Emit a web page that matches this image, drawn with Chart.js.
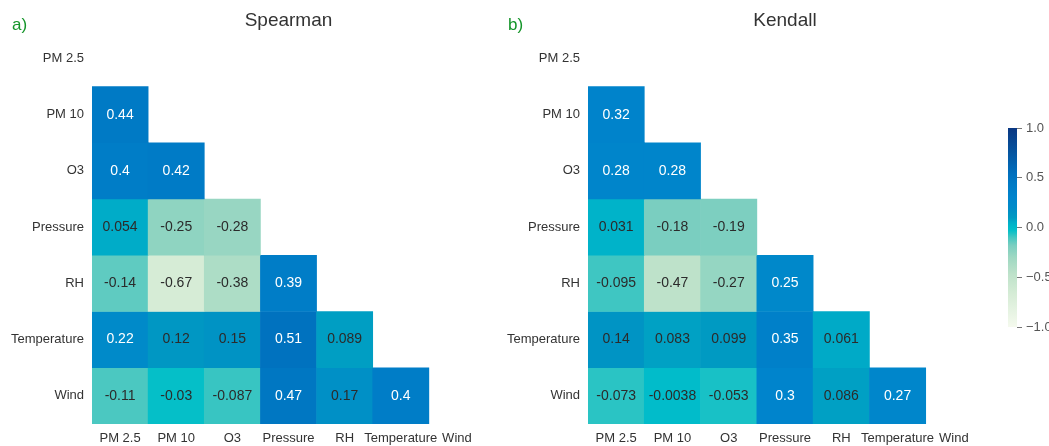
<!DOCTYPE html>
<html><head><meta charset="utf-8">
<script src="https://cdn.jsdelivr.net/npm/chart.js@4/dist/chart.umd.min.js"></script>
<style>
html,body{margin:0;padding:0;background:#fff;}
#wrap{position:relative;width:1049px;height:446px;overflow:hidden;}
.c{position:absolute;top:0;}
</style></head>
<body><div id="wrap">
<div class="c" style="left:0;width:485px;height:446px"><canvas id="left"></canvas></div>
<div class="c" style="left:490px;width:492px;height:446px"><canvas id="right"></canvas></div>
<div class="c" style="left:980px;width:69px;height:446px"><canvas id="cbar"></canvas></div>
</div>
<script>
const variables = ['PM 2.5','PM 10','O3','Pressure','RH','Temperature','Wind'];
// lower-triangle rows (row i has i values, for columns 0..i-1)
const spearmanPM10 = [0.44];
const spearmanO3 = [0.4, 0.42];
const spearmanPressure = [0.054, -0.25, -0.28];
const spearmanRH = [-0.14, -0.67, -0.38, 0.39];
const spearmanTemperature = [0.22, 0.12, 0.15, 0.51, 0.089];
const spearmanWind = [-0.11, -0.03, -0.087, 0.47, 0.17, 0.4];
const kendallPM10 = [0.32];
const kendallO3 = [0.28, 0.28];
const kendallPressure = [0.031, -0.18, -0.19];
const kendallRH = [-0.095, -0.47, -0.27, 0.25];
const kendallTemperature = [0.14, 0.083, 0.099, 0.35, 0.061];
const kendallWind = [-0.073, -0.0038, -0.053, 0.3, 0.086, 0.27];
const colorbarTicks = [-1, -0.5, 0, 0.5, 1];

const spearmanRows = [[], spearmanPM10, spearmanO3, spearmanPressure, spearmanRH, spearmanTemperature, spearmanWind];
const kendallRows = [[], kendallPM10, kendallO3, kendallPressure, kendallRH, kendallTemperature, kendallWind];

const cmap = [
  [-1, [245,250,238]], [-0.67, [214,236,214]], [-0.47, [190,226,202]], [-0.3, [158,216,194]],
  [-0.18, [122,206,192]], [-0.1, [68,199,193]], [-0.06, [30,194,197]], [-0.03, [5,191,200]], [0, [0,187,202]],
  [0.05, [0,174,200]], [0.1, [0,154,194]], [0.15, [0,147,196]], [0.2, [0,139,200]], [0.3, [0,132,204]],
  [0.45, [0,121,196]], [0.55, [0,110,188]], [0.75, [5,85,160]], [1, [10,55,130]]
];
function colorFor(v){
  for (let i=0;i<cmap.length-1;i++){
    const [a,ca]=cmap[i],[b,cb]=cmap[i+1];
    if (v>=a && v<=b){
      const t=(v-a)/(b-a);
      const c=ca.map((x,k)=>Math.round(x+(cb[k]-x)*t));
      return `rgb(${c[0]},${c[1]},${c[2]})`;
    }
  }
  return v<0?'rgb(245,250,238)':'rgb(10,55,130)';
}

const FONT = '"Liberation Sans", Arial, sans-serif';

const cellText = {
  id:'cellText',
  afterDatasetsDraw(chart){
    const ctx=chart.ctx;
    ctx.save();
    ctx.font = '14px '+FONT;
    ctx.textAlign='center'; ctx.textBaseline='middle';
    chart.data.datasets.forEach((ds,di)=>{
      const meta=chart.getDatasetMeta(di);
      meta.data.forEach((el,j)=>{
        const v=ds.values[j];
        if (v===undefined || v===null) return;
        ctx.fillStyle = v>=0.2 ? '#ffffff' : '#2b2b2b';
        ctx.fillText(String(v), el.x, (el.y+el.base)/2);
      });
    });
    ctx.restore();
  }
};
const panelLetter = {
  id:'panelLetter',
  afterDraw(chart, args, opts){
    const ctx=chart.ctx;
    ctx.save();
    ctx.font='17px '+FONT; ctx.fillStyle='#15952a';
    ctx.textAlign='left'; ctx.textBaseline='middle';
    ctx.fillText(opts.text, opts.x, 25);
    ctx.restore();
  }
};

function makeHeatmap(id, title, rows, letter, letterX, axisWidth){
  const datasets = rows.map((vals,i)=>({
    values: variables.map((_,j)=> j<vals.length ? vals[j] : null),
    data: variables.map((_,j)=> j<vals.length ? [i-0.5, i+0.5] : null),
    backgroundColor: variables.map((_,j)=> j<vals.length ? colorFor(vals[j]) : 'rgba(0,0,0,0)'),
    borderWidth: 0,
    grouped: false,
    barPercentage: 1,
    categoryPercentage: 1
  }));
  return new Chart(document.getElementById(id), {
    type:'bar',
    data:{labels: variables, datasets},
    options:{
      responsive:true, maintainAspectRatio:false, animation:false,
      layout:{padding:0},
      plugins:{
        legend:{display:false}, tooltip:{enabled:false},
        title:{display:true, text:title, fullSize:false, color:'#333',
               font:{size:19, family:FONT, weight:'normal'}, padding:{top:9,bottom:-1.5}},
        panelLetter:{text:letter, x:letterX}
      },
      scales:{
        x:{type:'category', offset:true,
           grid:{display:false, drawTicks:false}, border:{display:false},
           ticks:{color:'#333', font:{size:13, family:FONT}, maxRotation:0, autoSkip:false, padding:7},
           afterFit(s){ s.height = 22; }},
        y:{type:'linear', reverse:true, min:-0.5, max:6.5,
           grid:{display:false, drawTicks:false}, border:{display:false},
           afterBuildTicks(s){ s.ticks = variables.map((_,i)=>({value:i})); },
           ticks:{color:'#333', font:{size:13, family:FONT}, padding:8,
                  callback:(v)=>variables[v] ?? ''},
           afterFit(s){ s.width = axisWidth; }}
      }
    },
    plugins:[cellText, panelLetter]
  });
}

makeHeatmap('left','Spearman', spearmanRows, 'a)', 12, 92);
makeHeatmap('right','Kendall', kendallRows, 'b)', 18, 98);

const gradientBar = {
  id:'gradientBar',
  beforeDatasetsDraw(chart){
    const {ctx, chartArea:a} = chart;
    const g = ctx.createLinearGradient(0, a.bottom, 0, a.top);
    cmap.forEach(([v,c])=> g.addColorStop((v+1)/2, `rgb(${c[0]},${c[1]},${c[2]})`));
    ctx.save(); ctx.fillStyle=g; ctx.fillRect(a.left, a.top, a.right-a.left, a.bottom-a.top); ctx.restore();
  }
};
new Chart(document.getElementById('cbar'), {
  type:'scatter',
  data:{datasets:[{data:[]}]},
  options:{
    responsive:true, maintainAspectRatio:false, animation:false,
    layout:{padding:{left:28, top:128, bottom:119, right:0}},
    plugins:{legend:{display:false}, tooltip:{enabled:false}},
    scales:{
      x:{display:false, min:0, max:1},
      y:{position:'right', min:-1, max:1,
         afterBuildTicks(s){ s.ticks = colorbarTicks.map(v=>({value:v})); },
         grid:{display:true, drawOnChartArea:false, drawTicks:true, tickLength:5, color:'#777'},
         border:{display:false},
         ticks:{color:'#555', font:{size:13, family:FONT}, padding:4,
                callback:(v)=> (v<0?'\u2212':'') + Math.abs(v).toFixed(1)},
         afterFit(s){ s.width = 32; }}
    }
  },
  plugins:[gradientBar]
});
</script>
</body></html>
